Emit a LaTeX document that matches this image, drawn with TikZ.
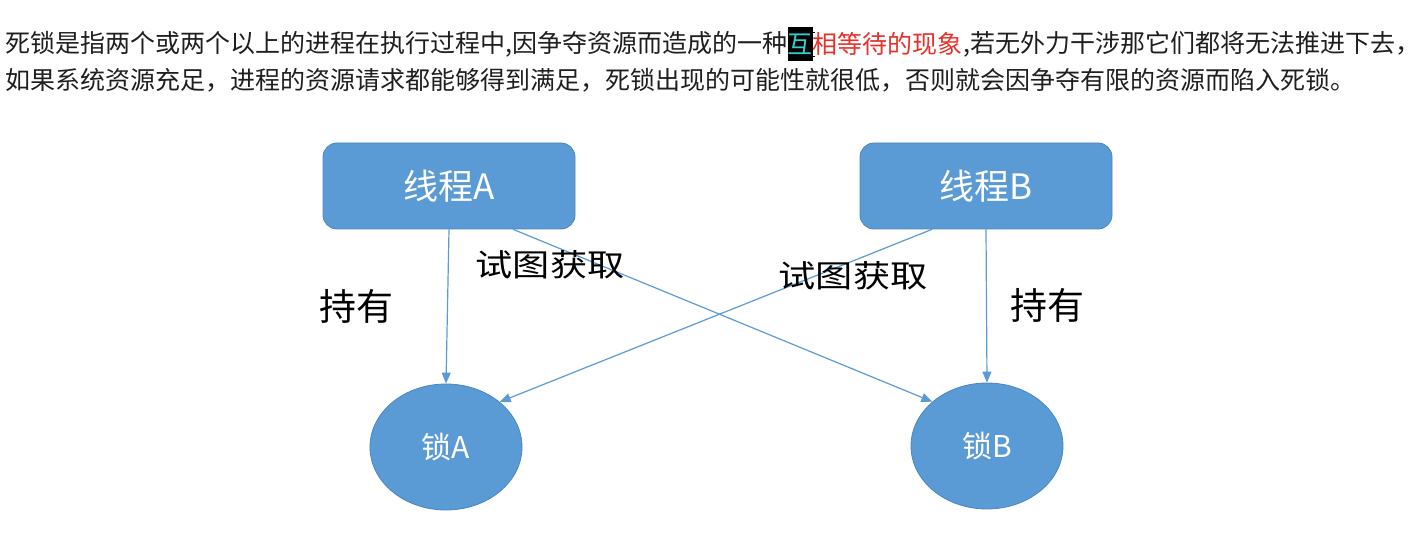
\documentclass[tikz,border=0pt]{standalone}
\usepackage{fontspec}
\setmainfont{Noto Sans CJK SC}
\usetikzlibrary{arrows.meta,shapes.geometric,calc}
\definecolor{officeblue}{HTML}{5B9BD5}
\definecolor{officeedge}{HTML}{4A86C0}
\definecolor{hlcyan}{HTML}{2FD0D0}
\definecolor{txtred}{HTML}{E8312A}
\begin{document}
\begin{tikzpicture}[x=1pt,y=-1pt,
  body/.style={inner sep=0pt, anchor=west, font=\fontsize{25}{30}\selectfont, text=black!88},
  thread/.style={rectangle, rounded corners=14pt, fill=officeblue, draw=officeedge, line width=0.8pt, minimum width=252pt, minimum height=86pt, text=white, font=\fontsize{35}{40}\selectfont},
  lock/.style={ellipse, fill=officeblue, draw=officeedge, line width=0.8pt, minimum width=152pt, minimum height=126pt, inner sep=0pt, text=white, font=\fontsize{30}{34}\selectfont},
  conn/.style={draw=officeblue, line width=1.2pt, -{Triangle[length=11pt,width=9pt]}},
  lbl/.style={font=\fontsize{37}{40}\selectfont, inner sep=0pt, text=black},
  trylbl/.style={font=\fontsize{31}{34}\selectfont, inner sep=0pt, text=black}]
\fill[white] (0,0) rectangle (1419,537);
\useasboundingbox (0,0) rectangle (1419,537);

% paragraph
\node[body] (t1) at (5,44) {死锁是指两个或两个以上的进程在执行过程中,因争夺资源而造成的一种};
\node[body, fill=black, text=hlcyan, minimum height=34pt] (t2) at (t1.east) {互};
\node[body, text=txtred] (t3) at (t2.east) {相等待的现象};
\node[body] (t4) at (t3.east) {,若无外力干涉那它们都将无法推进下去，};
\node[body] (t5) at (5,80) {如果系统资源充足，进程的资源请求都能够得到满足，死锁出现的可能性就很低，否则就会因争夺有限的资源而陷入死锁。};
% text cursor
\draw[black, line width=0.9pt] (809.5,32) -- (814.5,32) (812,32) -- (812,56) (809.5,56) -- (814.5,56);

% diagram
\node[thread] (tA) at (449,186) {线程A};
\node[thread] (tB) at (986,186) {线程B};
\node[lock] (lA) at (446,447) {锁A};
\node[lock] (lB) at (987,446) {锁B};

\draw[conn] (tA.south) -- (lA.north);
\draw[conn] (tB.south) -- (lB.north);
\draw[conn] ($(tA.south west)!0.754!(tA.south east)$) -- (lB.141);
\draw[conn] ($(tB.south west)!0.286!(tB.south east)$) -- (lA.40);

\node[lbl] (h1) at (356,306) {持有};
\node[lbl] (h2) at (1047,305) {持有};
\node[trylbl] (g1) at (550,265) {\scalebox{1.2}[1]{试图获取}};
\node[trylbl] (g2) at (853,276) {\scalebox{1.2}[1]{试图获取}};
\end{tikzpicture}
\end{document}
